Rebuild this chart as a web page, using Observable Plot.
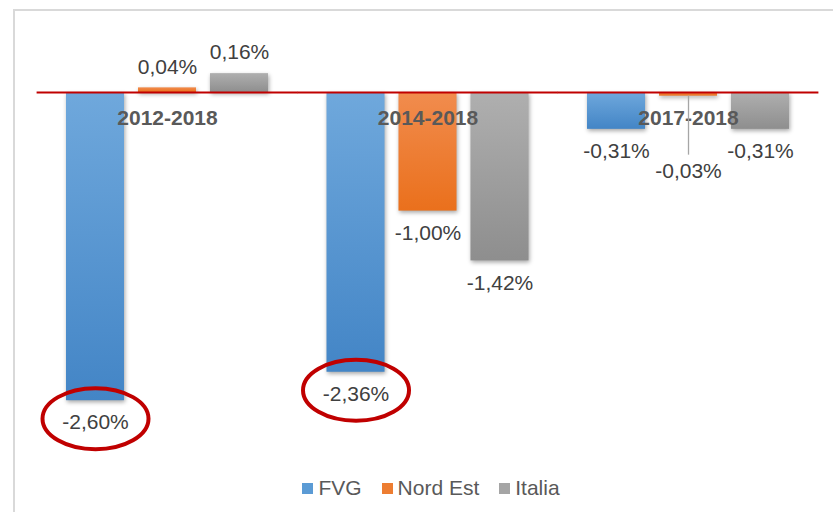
<!DOCTYPE html>
<html>
<head>
<meta charset="utf-8">
<script src="https://cdn.jsdelivr.net/npm/d3@7"></script>
<script src="https://cdn.jsdelivr.net/npm/@observablehq/plot@0.6"></script>
<style>
  body { margin: 0; background: #fff; font-family: "Liberation Sans", Arial, sans-serif; }
  #wrap { position: relative; width: 833px; height: 512px; overflow: hidden; background: #fff; }
  #frame { position: absolute; left: 13px; top: 9px; width: 900px; height: 600px;
           border-left: 2px solid #d9d9d9; border-top: 2px solid #d9d9d9; pointer-events: none; }
  #legend { display: flex; justify-content: center; padding-left: 29px; margin-top: 1.5px; }
  #legend .lg-swatches { font-family: "Liberation Sans", Arial, sans-serif; font-size: 21px; color: #595959; margin: 0; }
  #legend .lg-swatch { margin-right: 20px; }
  #legend .lg-swatch:last-child { margin-right: 0; }
  #legend .lg-swatch > svg { margin-right: 5px; }
</style>
</head>
<body>
<div id="wrap">
  <div id="chart"></div>
  <div id="legend"></div>
  <div id="frame"></div>
</div>
<script>
// ---- data ----
const periods = ["2012-2018", "2014-2018", "2017-2018"];
const series = ["FVG", "Nord Est", "Italia"];
const fvg = [-2.60, -2.36, -0.31];
const nordEst = [0.04, -1.00, -0.03];
const italia = [0.16, -1.42, -0.31];
const highlightedFVG = ["2012-2018", "2014-2018"];

// ---- styling ----
const flatColors = ["#5b9bd5", "#ed7d31", "#a5a5a5"];
const gradStops = [["#6fa8dc", "#4385c6"], ["#f18c4e", "#ea701c"], ["#afafaf", "#8e8e8e"]];

const values = [fvg, nordEst, italia];
const rows = periods.flatMap((p, i) => series.map((s, j) => ({period: p, series: s, value: values[j][i]})));
const fmt = d => d.value.toFixed(2).replace(".", ",") + "%";
const isLeader = d => d.value < 0 && d.value > -0.1;
const posRows = rows.filter(d => d.value >= 0);
const negRows = rows.filter(d => d.value < 0 && !isLeader(d));
const leadRows = rows.filter(isLeader);
const hlRows = rows.filter(d => d.series === "FVG" && highlightedFVG.includes(d.period));

// ellipse symbol (ry = r, rx wider)
const ellipse = {
  draw(ctx, size) {
    const ry = Math.sqrt(size / Math.PI), rx = ry * 53 / 30.5, k = 0.5523;
    ctx.moveTo(rx, 0);
    ctx.bezierCurveTo(rx, k * ry, k * rx, ry, 0, ry);
    ctx.bezierCurveTo(-k * rx, ry, -rx, k * ry, -rx, 0);
    ctx.bezierCurveTo(-rx, -k * ry, -k * rx, -ry, 0, -ry);
    ctx.bezierCurveTo(k * rx, -ry, rx, -k * ry, rx, 0);
    ctx.closePath();
  }
};

const font = '"Liberation Sans", Arial, sans-serif';
const chart = Plot.plot({
  width: 833,
  height: 470,
  marginLeft: 37,
  marginRight: 15,
  marginTop: 21,
  marginBottom: 22.4,
  style: {fontFamily: font, background: "transparent", overflow: "visible"},
  fx: {domain: periods, axis: null, paddingInner: 0.2246, paddingOuter: 0.1113, round: false},
  x: {domain: series, axis: null, paddingInner: 0.194, paddingOuter: 0, round: false},
  y: {domain: [-3, 0.6], axis: null},
  color: {domain: series, range: series.map((s, i) => `url(#grad${i})`)},
  marks: [
    Plot.barY(rows, {fx: "period", x: "series", y: "value", fill: "series",
      imageFilter: "drop-shadow(1px 2px 2px rgba(0,0,0,0.35))"}),
    Plot.text(periods, {fx: d => d, y: () => 0, text: d => d, dy: 26, fontSize: 21, fontWeight: "bold", fill: "#595959"}),
    Plot.text(posRows, {fx: "period", x: "series", y: "value", text: fmt, dy: -21, fontSize: 21, fill: "#404040"}),
    Plot.text(negRows, {fx: "period", x: "series", y: "value", text: fmt, dy: 22, fontSize: 21, fill: "#404040"}),
    Plot.ruleX(leadRows, {fx: "period", x: "series", y1: "value", y2: "value", insetBottom: -59, stroke: "#a6a6a6", strokeWidth: 1.3}),
    Plot.text(leadRows, {fx: "period", x: "series", y: "value", text: fmt, dy: 75, fontSize: 21, fill: "#404040"}),
    Plot.dot(hlRows, {fx: "period", x: "series", y: "value", r: 30.5, symbol: ellipse, dy: 18,
      fill: "none", stroke: "#c00000", strokeWidth: 4}),
    Plot.ruleY([0], {insetLeft: -29.4, insetRight: -29.4, stroke: "#c00000", strokeWidth: 2})
  ]
});

const defs = d3.select(chart).insert("defs", ":first-child");
gradStops.forEach(([a, b], i) => {
  const g = defs.append("linearGradient").attr("id", `grad${i}`).attr("x1", 0).attr("y1", 0).attr("x2", 0).attr("y2", 1);
  g.append("stop").attr("offset", "0%").attr("stop-color", a);
  g.append("stop").attr("offset", "100%").attr("stop-color", b);
});
document.getElementById("chart").append(chart);

const legend = Plot.legend({
  color: {type: "ordinal", domain: series, range: flatColors},
  legend: "swatches",
  swatchSize: 11,
  className: "lg"
});
document.getElementById("legend").append(legend);
</script>
</body>
</html>
